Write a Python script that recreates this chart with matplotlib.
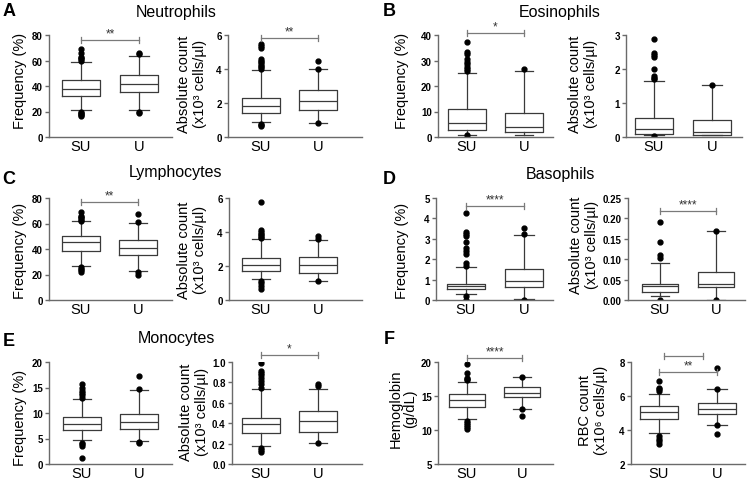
import matplotlib
matplotlib.use('Agg')
import matplotlib.pyplot as plt
from matplotlib.ticker import FormatStrFormatter

plt.rcParams['font.family'] = ['Liberation Sans', 'DejaVu Sans']

GROUPS = ['SU', 'U']

# Box stats: [whisker low, Q1, median, Q3, whisker high]; outliers separately
NEUT_FREQ_SU = [21.3, 32.2, 37.7, 44.7, 59.0]
NEUT_FREQ_SU_OUT = [69, 66, 63, 62, 61, 60, 20, 19, 18, 17, 16.5]
NEUT_FREQ_U = [21.3, 35.0, 41.6, 48.8, 63.9]
NEUT_FREQ_U_OUT = [66, 65, 20, 18.7]

NEUT_ABS_SU = [0.86, 1.39, 1.81, 2.29, 3.92]
NEUT_ABS_SU_OUT = [5.45, 5.35, 5.25, 4.6, 4.5, 4.4, 4.3, 4.2, 4.1, 4.0, 0.78, 0.7, 0.62]
NEUT_ABS_U = [0.84, 1.57, 2.11, 2.77, 3.98]
NEUT_ABS_U_OUT = [4.5, 3.98, 0.84]

EOS_FREQ_SU = [0.8, 2.7, 5.6, 11.1, 25.0]
EOS_FREQ_SU_OUT = [37.3, 33.3, 32.4, 30.5, 29.5, 28.5, 27.5, 26.5, 25.8, 0.8]
EOS_FREQ_U = [0.8, 2.0, 3.8, 9.4, 25.9]
EOS_FREQ_U_OUT = [26.8]

EOS_ABS_SU = [0.05, 0.09, 0.25, 0.555, 1.66]
EOS_ABS_SU_OUT = [2.89, 2.48, 2.41, 2.35, 2.0, 1.79, 1.74, 1.70, 0.03]
EOS_ABS_U = [0.05, 0.07, 0.16, 0.49, 1.52]
EOS_ABS_U_OUT = [1.52]

LYM_FREQ_SU = [26.9, 38.2, 45.2, 50.5, 61.7]
LYM_FREQ_SU_OUT = [68.8, 66, 65, 64, 63, 62, 25.6, 24.5, 23.3, 22.2]
LYM_FREQ_U = [22.5, 35.0, 40.5, 47.3, 60.7]
LYM_FREQ_U_OUT = [67.5, 61, 21.7, 20]

LYM_ABS_SU = [1.24, 1.71, 2.08, 2.49, 3.57]
LYM_ABS_SU_OUT = [5.78, 4.1, 4.0, 3.9, 3.8, 3.7, 3.62, 1.14, 1.0, 0.85, 0.65]
LYM_ABS_U = [1.10, 1.61, 2.08, 2.55, 3.53]
LYM_ABS_U_OUT = [3.78, 3.6, 1.1]

BASO_FREQ_SU = [0.31, 0.54, 0.69, 0.80, 1.63]
BASO_FREQ_SU_OUT = [4.25, 3.35, 3.25, 3.15, 2.83, 2.53, 2.4, 2.25, 1.8, 1.68, 0.2, 0.0]
BASO_FREQ_U = [0.05, 0.62, 0.92, 1.52, 3.19]
BASO_FREQ_U_OUT = [3.51, 3.22, 0.02]

BASO_ABS_SU = [0.01, 0.02, 0.034, 0.04, 0.09]
BASO_ABS_SU_OUT = [0.192, 0.141, 0.11, 0.103, 0.0]
BASO_ABS_U = [0.0, 0.031, 0.04, 0.069, 0.17]
BASO_ABS_U_OUT = [0.17, 0.0]

MONO_FREQ_SU = [4.8, 6.7, 7.75, 9.3, 12.8]
MONO_FREQ_SU_OUT = [15.6, 15.0, 14.4, 14.0, 13.5, 13.0, 4.2, 3.9, 3.6, 1.1]
MONO_FREQ_U = [4.6, 6.8, 8.2, 9.8, 14.5]
MONO_FREQ_U_OUT = [17.3, 14.8, 4.4, 4.1]

MONO_ABS_SU = [0.176, 0.306, 0.388, 0.453, 0.736]
MONO_ABS_SU_OUT = [0.99, 0.91, 0.89, 0.87, 0.84, 0.81, 0.78, 0.75, 0.16, 0.14, 0.12]
MONO_ABS_U = [0.21, 0.316, 0.42, 0.524, 0.74]
MONO_ABS_U_OUT = [0.78, 0.76, 0.205]

HGB_SU = [11.6, 13.45, 14.48, 15.3, 17.1]
HGB_SU_OUT = [19.65, 18.4, 17.7, 17.5, 17.3, 11.35, 11.0, 10.7, 10.4, 10.1]
HGB_U = [13.15, 14.8, 15.5, 16.35, 17.85]
HGB_U_OUT = [17.85, 13.15, 12.1]

RBC_SU = [3.82, 4.66, 5.07, 5.44, 6.14]
RBC_SU_OUT = [6.87, 6.5, 6.4, 6.3, 3.66, 3.5, 3.35, 3.18]
RBC_U = [4.3, 4.95, 5.23, 5.56, 6.4]
RBC_U_OUT = [7.67, 6.4, 4.3, 3.76]

W, H = 748, 481
fig = plt.figure(figsize=(W / 100, H / 100), dpi=100)

BOX_C = '#3a3a3a'
AX_C = '#6a6a6a'
BR_C = '#7a7a7a'


def stats(box, out):
    return {'whislo': box[0], 'q1': box[1], 'med': box[2], 'q3': box[3],
            'whishi': box[4], 'fliers': out}


def panel(x0, x1, top, bottom, xsu, xu, su, su_out, u, u_out, ylim, yticks, fmt=None):
    ax = fig.add_axes([x0 / W, 1 - bottom / H, (x1 - x0) / W, (bottom - top) / H])
    sp = xu - xsu
    ax.set_xlim((x0 - xsu) / sp, (x1 - xsu) / sp)
    ax.set_ylim(*ylim)
    ax.bxp([stats(su, su_out), stats(u, u_out)], positions=[0, 1], widths=0.66,
           boxprops=dict(color=BOX_C, lw=0.9),
           medianprops=dict(color=BOX_C, lw=0.9),
           whiskerprops=dict(color=BOX_C, lw=0.9),
           capprops=dict(color=BOX_C, lw=0.9),
           flierprops=dict(marker='o', mfc='black', mec='black', ms=3.5, lw=0),
           manage_ticks=False)
    for s in ['top', 'right']:
        ax.spines[s].set_visible(False)
    for s in ['left', 'bottom']:
        ax.spines[s].set_color(AX_C)
        ax.spines[s].set_linewidth(1.0)
    ax.set_xticks([0, 1])
    ax.set_xticklabels(GROUPS, fontsize=10.5)
    ax.tick_params(axis='x', length=0, pad=1.5)
    ax.set_yticks(yticks)
    if fmt:
        ax.yaxis.set_major_formatter(FormatStrFormatter(fmt))
    ax.tick_params(axis='y', length=3, width=1, color=AX_C, pad=1.5, labelsize=7)
    for lab in ax.get_yticklabels():
        lab.set_fontweight('bold')
    return ax


def bracket(ax, y, stars, xa=0.0, xb=1.0):
    lo, hi = ax.get_ylim()
    h = (hi - lo) / 102 * 3
    kw = dict(color=BR_C, lw=0.9, clip_on=False)
    ax.plot([xa, xb], [y, y], **kw)
    ax.plot([xa, xa], [y - h, y + h], **kw)
    ax.plot([xb, xb], [y - h, y + h], **kw)
    if stars:
        ax.annotate(stars, xy=((xa + xb) / 2, y), xytext=(0, 0.5), textcoords='offset points',
                    ha='center', va='bottom', fontsize=8.5, color='#333333',
                    annotation_clip=False)


def ylab(x, y, s):
    fig.text(x / W, 1 - y / H, s, rotation=90, ha='center', va='center',
             fontsize=10.5, multialignment='center', linespacing=1.1)


ABS_LAB = 'Absolute count\n(x10\u00b3 cells/\u00b5l)'

# Row 1
a = panel(49, 172, 36, 138, 81, 139, NEUT_FREQ_SU, NEUT_FREQ_SU_OUT, NEUT_FREQ_U, NEUT_FREQ_U_OUT,
          (0, 80), [0, 20, 40, 60, 80])
bracket(a, 76.1, '**')
a = panel(228, 362, 36, 138, 261, 318, NEUT_ABS_SU, NEUT_ABS_SU_OUT, NEUT_ABS_U, NEUT_ABS_U_OUT,
          (0, 6), [0, 2, 4, 6])
bracket(a, 5.82, '**')
a = panel(438, 553, 36, 138, 467, 524, EOS_FREQ_SU, EOS_FREQ_SU_OUT, EOS_FREQ_U, EOS_FREQ_U_OUT,
          (0, 40), [0, 10, 20, 30, 40])
bracket(a, 40.8, '*')
a = panel(626, 742, 36, 138, 654, 712, EOS_ABS_SU, EOS_ABS_SU_OUT, EOS_ABS_U, EOS_ABS_U_OUT,
          (0, 3), [0, 1, 2, 3])

# Row 2
a = panel(49, 172, 199, 301, 81, 138, LYM_FREQ_SU, LYM_FREQ_SU_OUT, LYM_FREQ_U, LYM_FREQ_U_OUT,
          (0, 80), [0, 20, 40, 60, 80])
bracket(a, 77.1, '**')
a = panel(229, 362, 199, 301, 261, 318, LYM_ABS_SU, LYM_ABS_SU_OUT, LYM_ABS_U, LYM_ABS_U_OUT,
          (0, 6), [0, 2, 4, 6])
a = panel(436, 553, 199, 301, 466, 524, BASO_FREQ_SU, BASO_FREQ_SU_OUT, BASO_FREQ_U, BASO_FREQ_U_OUT,
          (0, 5), [0, 1, 2, 3, 4, 5])
bracket(a, 4.62, '****')
a = panel(628, 745, 199, 301, 660, 716, BASO_ABS_SU, BASO_ABS_SU_OUT, BASO_ABS_U, BASO_ABS_U_OUT,
          (0, 0.25), [0, 0.05, 0.10, 0.15, 0.20, 0.25], '%.2f')
bracket(a, 0.217, '****')

# Row 3
a = panel(49, 172, 363, 465, 82, 139, MONO_FREQ_SU, MONO_FREQ_SU_OUT, MONO_FREQ_U, MONO_FREQ_U_OUT,
          (0, 20), [0, 5, 10, 15, 20])
a = panel(232, 362, 363, 465, 261, 318, MONO_ABS_SU, MONO_ABS_SU_OUT, MONO_ABS_U, MONO_ABS_U_OUT,
          (0, 1.0), [0, 0.2, 0.4, 0.6, 0.8, 1.0], '%.1f')
bracket(a, 1.07, '*')
a = panel(438, 553, 363, 465, 467, 522, HGB_SU, HGB_SU_OUT, HGB_U, HGB_U_OUT,
          (5, 20), [5, 10, 15, 20])
bracket(a, 20.6, '****')
a = panel(631, 745, 363, 465, 659, 717, RBC_SU, RBC_SU_OUT, RBC_U, RBC_U_OUT,
          (2, 8), [2, 4, 6, 8])
bracket(a, 7.39, '**')
bracket(a, 8.34, '', 0.09, 0.76)

# Y labels
ylab(20, 81, 'Frequency (%)')
ylab(192, 84, ABS_LAB)
ylab(402, 81, 'Frequency (%)')
ylab(583, 84, ABS_LAB)
ylab(20, 251, 'Frequency (%)')
ylab(192, 250, ABS_LAB)
ylab(402, 251, 'Frequency (%)')
ylab(584, 245, ABS_LAB)
ylab(20, 418, 'Frequency (%)')
ylab(194, 412, ABS_LAB)
ylab(403, 409, 'Hemoglobin\n(g/dL)')
ylab(593, 410, 'RBC count\n(x10\u2076 cells/\u00b5l)')

# Titles
for x, y, s in [(176, 13, 'Neutrophils'), (560, 13, 'Eosinophils'),
                (176, 173, 'Lymphocytes'), (560, 174, 'Basophils'),
                (176, 338, 'Monocytes')]:
    fig.text(x / W, 1 - y / H, s, ha='center', va='center', fontsize=11.5)

# Panel letters
for x, y, s in [(9, 11, 'A'), (389, 11, 'B'), (9, 179, 'C'), (389, 179, 'D'),
                (9, 342, 'E'), (389, 340, 'F')]:
    fig.text(x / W, 1 - y / H, s, ha='center', va='center', fontsize=13, fontweight='bold')

fig.savefig('out.png', dpi=100)
